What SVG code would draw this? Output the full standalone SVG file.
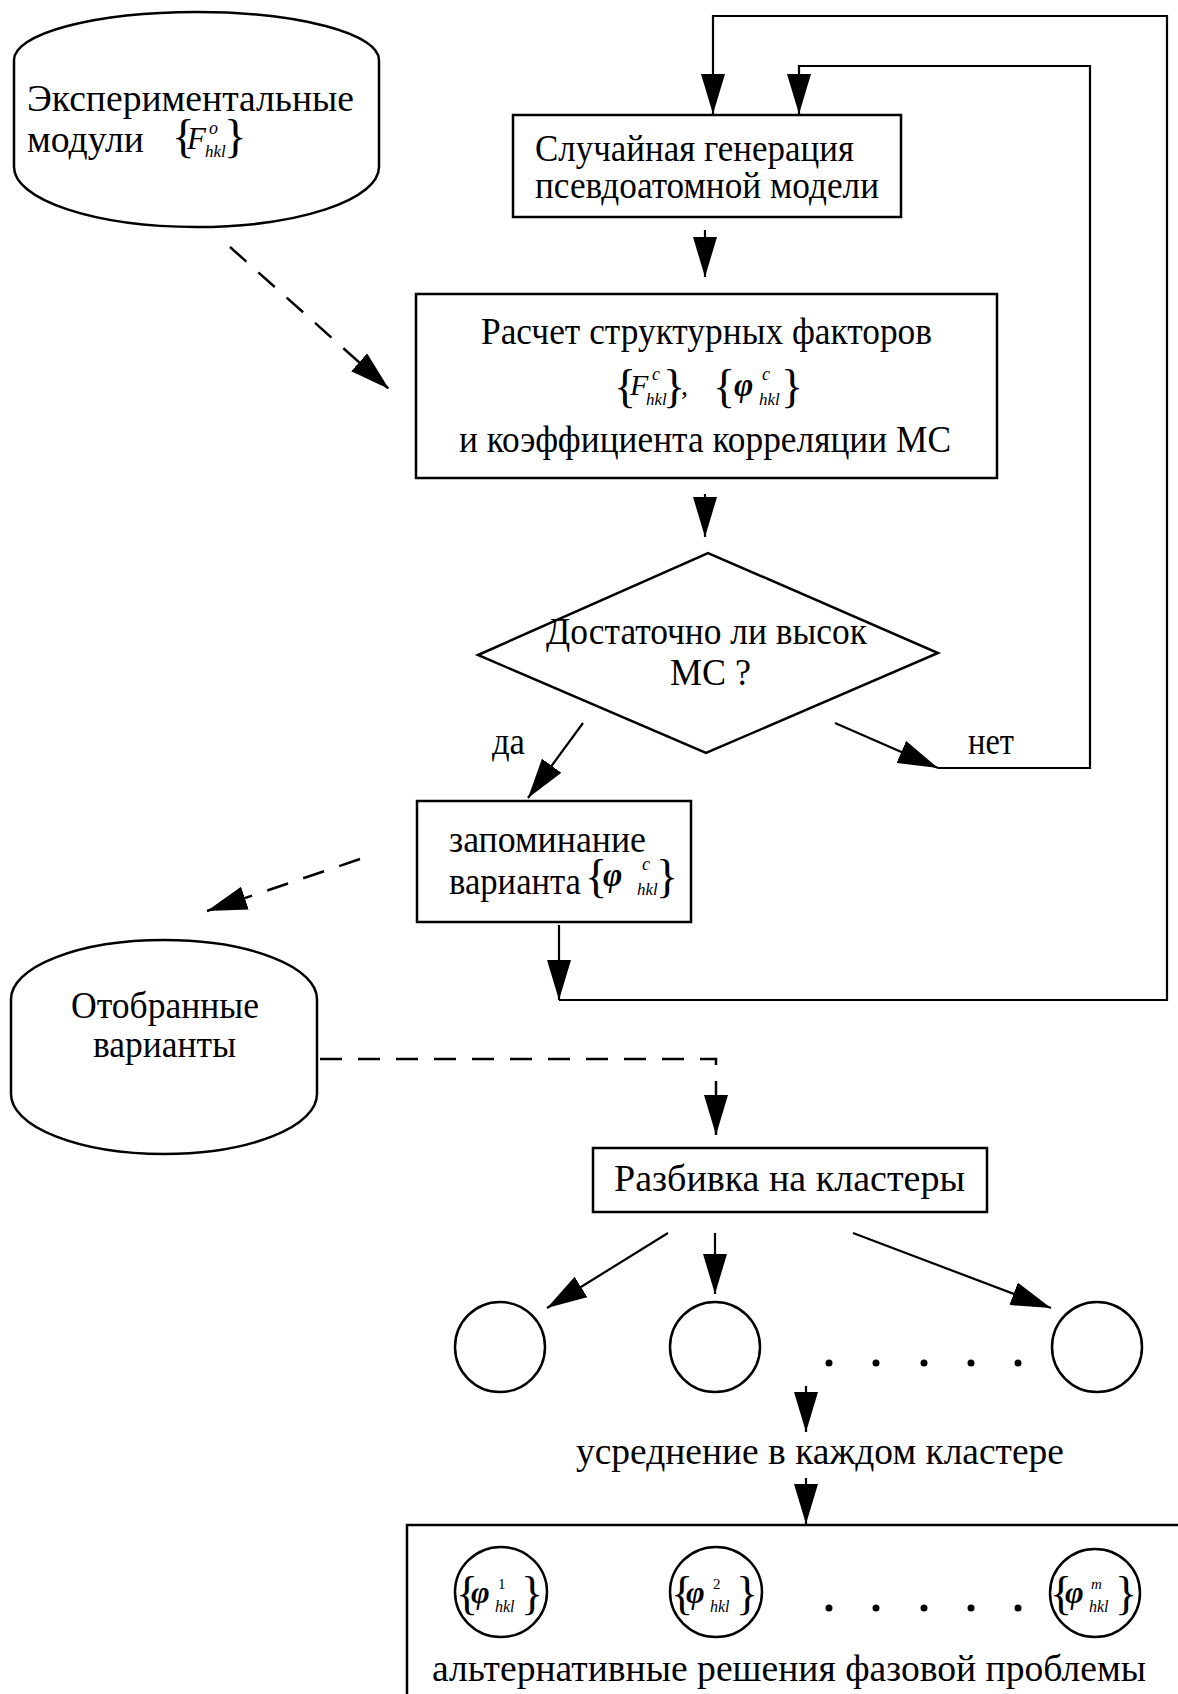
<svg xmlns="http://www.w3.org/2000/svg" width="1178" height="1694" viewBox="0 0 1178 1694">
<defs>
<style>
.shape{fill:#fff;stroke:#000;stroke-width:2.5}
.ln{fill:none;stroke:#000;stroke-width:2.2}
.dash{fill:none;stroke:#000;stroke-width:2.5;stroke-dasharray:22 16}
.t{font-family:"Liberation Serif","Times New Roman",serif;font-size:38px;fill:#000}
.f{font-family:"Liberation Serif","Times New Roman",serif;fill:#000}
.i{font-style:italic}
.dot{fill:#000}
</style>
<marker id="ah" viewBox="0 0 40 24" markerWidth="40" markerHeight="24" markerUnits="userSpaceOnUse" refX="40" refY="12" orient="auto">
<path d="M0,0 L40,12 L0,24 Z" fill="#000"/>
</marker>
</defs>

<g id="connectors">
<path class="ln" d="M559,1000 H1167 V16 H713 V114" marker-end="url(#ah)"/>
<path class="ln" d="M938,768 H1090 V66 H799 V114" marker-end="url(#ah)"/>
<path class="ln" d="M559,925 V1000" marker-end="url(#ah)"/>
<path class="ln" d="M835,723 L938,768" marker-end="url(#ah)"/>
<path class="ln" d="M583,723 L528,798" marker-end="url(#ah)"/>
<path class="ln" d="M705,230 V277" marker-end="url(#ah)"/>
<path class="ln" d="M705,494 V537" marker-end="url(#ah)"/>
<path class="dash" d="M230,247 L389,389" marker-end="url(#ah)"/>
<path class="dash" d="M360,859 L207,911" marker-end="url(#ah)"/>
<path class="dash" d="M320,1059 H716 V1135" marker-end="url(#ah)"/>
<path class="ln" d="M668,1233 L547,1308" marker-end="url(#ah)"/>
<path class="ln" d="M715,1233 V1294" marker-end="url(#ah)"/>
<path class="ln" d="M853,1233 L1051,1308" marker-end="url(#ah)"/>
<path class="ln" d="M806,1386 V1432" marker-end="url(#ah)"/>
<path class="ln" d="M806,1478 V1524" marker-end="url(#ah)"/>
</g>

<g id="exp-moduli">
<path class="shape" d="M14,60 A182.5,48 0 0 1 379,60 V167 A182.5,60 0 0 1 14,167 Z"/>
<text class="t" x="27" y="111" textLength="327" lengthAdjust="spacingAndGlyphs">Экспериментальные</text>
<text class="t" x="27" y="152" textLength="117" lengthAdjust="spacingAndGlyphs">модули</text>
<text class="f"><tspan x="172" y="152" font-size="47">{</tspan><tspan class="i" x="187" y="149" font-size="31">F</tspan><tspan class="i" x="209" y="134" font-size="18">o</tspan><tspan class="i" x="205" y="157" font-size="17">hkl</tspan><tspan x="224" y="152" font-size="47">}</tspan></text>
</g>

<g id="random-gen">
<rect class="shape" x="513" y="115" width="388" height="102"/>
<text class="t" x="535" y="161" textLength="319" lengthAdjust="spacingAndGlyphs">Случайная генерация</text>
<text class="t" x="535" y="198" textLength="344" lengthAdjust="spacingAndGlyphs">псевдоатомной модели</text>
</g>

<g id="calc">
<rect class="shape" x="416" y="294" width="581" height="184"/>
<text class="t" x="481" y="344" textLength="451" lengthAdjust="spacingAndGlyphs">Расчет структурных факторов</text>
<text class="f"><tspan x="614" y="402" font-size="46">{</tspan><tspan class="i" x="630" y="395" font-size="30">F</tspan><tspan class="i" x="652" y="380" font-size="18">c</tspan><tspan class="i" x="646" y="405" font-size="17">hkl</tspan><tspan x="663" y="402" font-size="46">}</tspan><tspan x="681" y="395" font-size="28">,</tspan><tspan x="713" y="402" font-size="46">{</tspan><tspan class="i" x="734" y="396" font-size="33" font-weight="bold">φ</tspan><tspan class="i" x="762" y="380" font-size="18">c</tspan><tspan class="i" x="759" y="405" font-size="17">hkl</tspan><tspan x="781" y="402" font-size="46">}</tspan></text>
<text class="t" x="459" y="452" textLength="492" lengthAdjust="spacingAndGlyphs">и коэффициента корреляции МС</text>
</g>

<g id="decision">
<polygon class="shape" points="478,655 708,553 938,653 706,753"/>
<text class="t" x="546" y="644" textLength="321" lengthAdjust="spacingAndGlyphs">Достаточно ли высок</text>
<text class="t" x="670" y="685" textLength="81" lengthAdjust="spacingAndGlyphs">МС ?</text>
</g>

<text id="label-da" class="t" x="492" y="754" textLength="33" lengthAdjust="spacingAndGlyphs">да</text>
<text id="label-net" class="t" x="968" y="754" textLength="46" lengthAdjust="spacingAndGlyphs">нет</text>

<g id="remember">
<rect class="shape" x="417" y="801" width="274" height="121"/>
<text class="t" x="449" y="852" textLength="197" lengthAdjust="spacingAndGlyphs">запоминание</text>
<text class="t" x="449" y="894" textLength="132" lengthAdjust="spacingAndGlyphs">варианта</text>
<text class="f"><tspan x="585" y="892" font-size="46">{</tspan><tspan class="i" x="603" y="886" font-size="33" font-weight="bold">φ</tspan><tspan class="i" x="642" y="870" font-size="18">c</tspan><tspan class="i" x="637" y="895" font-size="17">hkl</tspan><tspan x="656" y="892" font-size="46">}</tspan></text>
</g>

<g id="selected">
<path class="shape" d="M11,999 A153,59 0 0 1 317,999 V1094 A153,60 0 0 1 11,1094 Z"/>
<text class="t" x="71" y="1018" textLength="188" lengthAdjust="spacingAndGlyphs">Отобранные</text>
<text class="t" x="93" y="1057" textLength="143" lengthAdjust="spacingAndGlyphs">варианты</text>
</g>

<g id="clusters">
<rect class="shape" x="593" y="1148" width="394" height="64"/>
<text class="t" x="614" y="1191" textLength="351" lengthAdjust="spacingAndGlyphs">Разбивка на кластеры</text>
</g>

<g id="cluster-1"><ellipse class="shape" cx="500" cy="1347" rx="45" ry="45"/></g>
<g id="cluster-2"><ellipse class="shape" cx="715" cy="1347" rx="45" ry="45"/></g>
<g id="cluster-n"><ellipse class="shape" cx="1097" cy="1347" rx="45" ry="45"/></g>
<g id="dots-1">
<circle class="dot" cx="829" cy="1363" r="3.5"/><circle class="dot" cx="876" cy="1363" r="3.5"/><circle class="dot" cx="924" cy="1363" r="3.5"/><circle class="dot" cx="971" cy="1363" r="3.5"/><circle class="dot" cx="1018" cy="1363" r="3.5"/>
</g>

<text id="averaging" class="t" x="576" y="1464" textLength="488" lengthAdjust="spacingAndGlyphs">усреднение в каждом кластере</text>

<g id="solutions">
<rect class="shape" x="407" y="1525" width="800" height="200"/>
<ellipse class="shape" cx="501" cy="1592" rx="46" ry="45"/>
<text class="f"><tspan x="456" y="1609" font-size="46">{</tspan><tspan class="i" x="471" y="1603" font-size="32" font-weight="bold">φ</tspan><tspan x="498" y="1589" font-size="15">1</tspan><tspan class="i" x="495" y="1612" font-size="16">hkl</tspan><tspan x="521" y="1609" font-size="46">}</tspan></text>
<ellipse class="shape" cx="716" cy="1592" rx="46" ry="45"/>
<text class="f"><tspan x="671" y="1609" font-size="46">{</tspan><tspan class="i" x="686" y="1603" font-size="32" font-weight="bold">φ</tspan><tspan x="713" y="1589" font-size="15">2</tspan><tspan class="i" x="710" y="1612" font-size="16">hkl</tspan><tspan x="736" y="1609" font-size="46">}</tspan></text>
<ellipse class="shape" cx="1095" cy="1593" rx="45" ry="44"/>
<text class="f"><tspan x="1050" y="1609" font-size="46">{</tspan><tspan class="i" x="1065" y="1603" font-size="32" font-weight="bold">φ</tspan><tspan class="i" x="1091" y="1589" font-size="15">m</tspan><tspan class="i" x="1089" y="1612" font-size="16">hkl</tspan><tspan x="1115" y="1609" font-size="46">}</tspan></text>
<circle class="dot" cx="829" cy="1608" r="3.5"/><circle class="dot" cx="876" cy="1608" r="3.5"/><circle class="dot" cx="924" cy="1608" r="3.5"/><circle class="dot" cx="971" cy="1608" r="3.5"/><circle class="dot" cx="1018" cy="1608" r="3.5"/>
<text class="t" x="432" y="1681" textLength="714" lengthAdjust="spacingAndGlyphs">альтернативные решения фазовой проблемы</text>
</g>
</svg>
